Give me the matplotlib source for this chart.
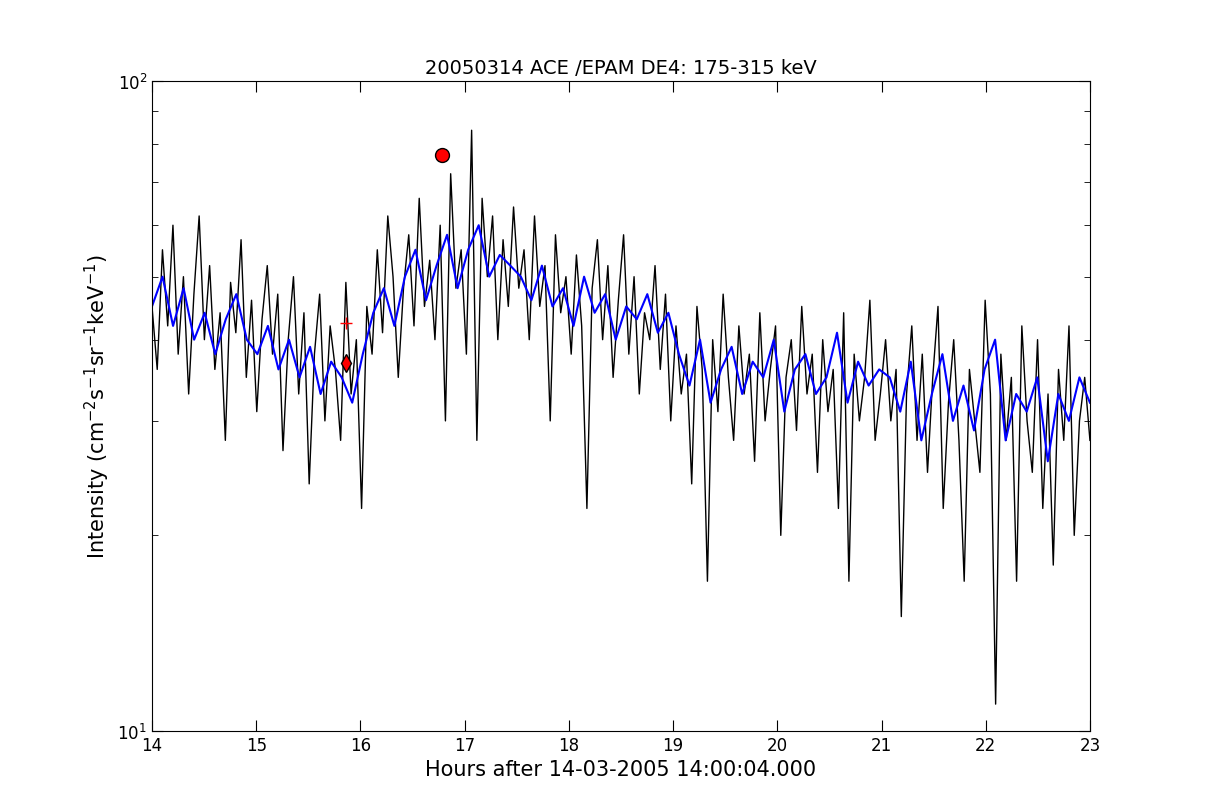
import matplotlib
matplotlib.use("Agg")
import matplotlib.pyplot as plt
from matplotlib.ticker import NullFormatter
import numpy as np

black_vals = [45,36,55,42,60,38,50,33,47,62,40,52,36,44,28,49,41,57,35,46,31,43,52,38,47,27,40,50,33,44,24,38,47,30,42,36,28,49,33,40,
 22,45,38,55,41,62,50,35,48,58,42,66,45,53,40,60,30,72,48,55,38,84,28,66,50,62,40,57,45,64,
 48,55,40,62,45,52,30,58,44,50,38,54,42,22,48,57,40,52,35,46,58,38,50,33,44,40,52,36,47,30,
 42,33,38,24,45,36,17,40,31,47,35,28,42,33,38,26,44,30,36,42,20,35,40,29,45,33,38,25,40,31,36,22,44,17,38,30,35,46,28,33,
 40,30,36,15,33,42,28,38,25,35,45,22,32,40,28,17,36,30,25,46,33,11,38,28,35,17,42,30,25,40,22,33,18,36,28,42,20,30,35,28]
blue_vals = [45,50,42,48,40,44,38,43,47,40,38,42,36,40,35,39,33,37,35,32,
 38,44,48,42,50,55,46,52,58,48,55,60,50,54,52,
 50,46,52,45,48,42,50,44,47,40,45,43,47,41,44,
 38,34,40,32,36,39,33,37,35,40,31,36,38,33,35,41,32,37,34,36,
 35,31,37,28,33,38,30,34,29,36,40,28,33,31,35,26,33,30,35,32]
peak_x, peak_y = [16.78], [77]
onset_x, onset_y = [15.86], [36.8]
plus_x, plus_y = [15.86], [42.5]

bx = np.linspace(14, 23, len(black_vals))
ux = np.linspace(14, 23, len(blue_vals))

fig = plt.figure(figsize=(12.12, 8.12), dpi=100)
ax = fig.add_axes([0.1254, 0.0985, 0.7739, 0.8005])
ax.plot(bx, black_vals, color='black', lw=1)
ax.plot(ux, blue_vals, color='blue', lw=1.5)
ax.plot(peak_x, peak_y, 'o', color='red', ms=10, mec='black')
ax.plot(onset_x, onset_y, 'd', color='red', ms=9, mec='black')
ax.plot(plus_x, plus_y, '+', color='red', ms=8)
ax.set_yscale('log')
ax.set_xlim(14, 23)
ax.set_ylim(10, 100)
ax.yaxis.set_minor_formatter(NullFormatter())
ax.tick_params(which='major', direction='in', top=True, right=True, labelsize=12, length=8)
ax.tick_params(which='minor', direction='in', top=True, right=True, length=4)
ax.set_title('20050314 ACE /EPAM DE4: 175-315 keV', fontsize=14)
ax.set_xlabel('Hours after 14-03-2005 14:00:04.000', fontsize=15)
ax.set_ylabel(r'Intensity (cm$^{-2}$s$^{-1}$sr$^{-1}$keV$^{-1}$)', fontsize=15)
fig.savefig('out.png')
